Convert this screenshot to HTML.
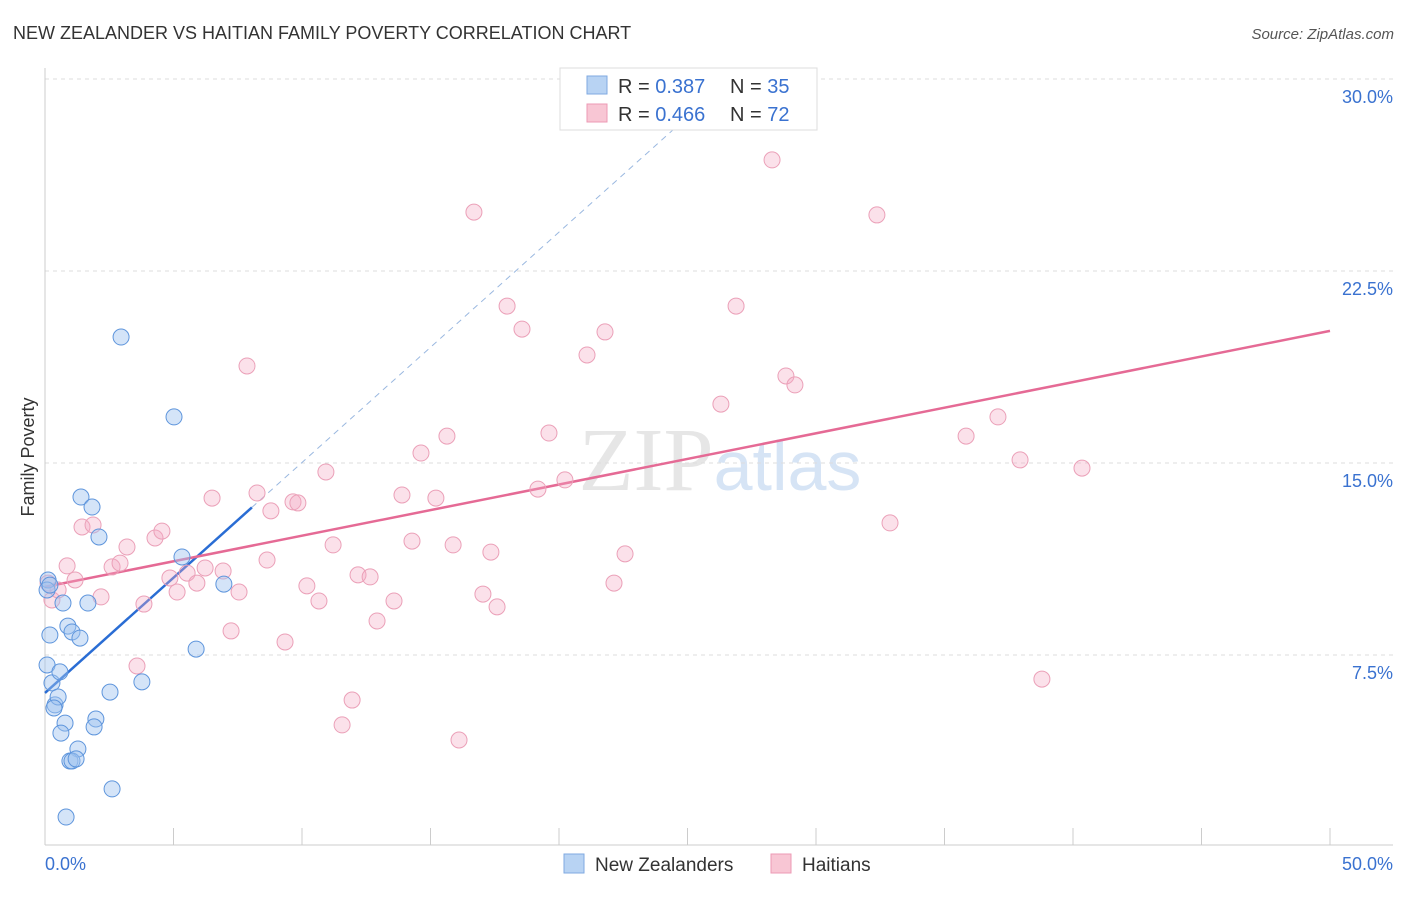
<!DOCTYPE html>
<html><head><meta charset="utf-8"><style>
body{margin:0;background:#fff;font-family:"Liberation Sans",sans-serif}
</style></head><body>
<svg id="chart" width="1406" height="892" xmlns="http://www.w3.org/2000/svg" font-family="Liberation Sans, sans-serif">
<text x="13" y="39" font-size="18" fill="#333">NEW ZEALANDER VS HAITIAN FAMILY POVERTY CORRELATION CHART</text>
<text x="1394" y="39" font-size="15" fill="#555" text-anchor="end" font-style="italic">Source: ZipAtlas.com</text>
<text x="720" y="490" font-size="90" text-anchor="middle" fill="#e6e6e6" font-family="Liberation Serif, serif">ZIP<tspan fill="#d6e4f5" font-family="Liberation Sans, sans-serif" font-size="70">atlas</tspan></text>
<text transform="translate(34,457) rotate(-90)" font-size="18" fill="#333" text-anchor="middle">Family Poverty</text>
<g id="grid"></g><g id="axes"></g><g id="lines"></g><g id="pts"></g>
<g>
<rect x="560" y="68" width="257" height="62" fill="#fff" stroke="#ddd"/>
<rect x="587" y="76" width="20" height="18" fill="#b8d3f3" stroke="#7fa9e2"/>
<rect x="587" y="104" width="20" height="18" fill="#f8c6d4" stroke="#ec9ab4"/>
<text x="618" y="93" font-size="20" fill="#333">R = <tspan fill="#3a72d0">0.387</tspan><tspan x="730">N = </tspan><tspan fill="#3a72d0">35</tspan></text>
<text x="618" y="121" font-size="20" fill="#333">R = <tspan fill="#3a72d0">0.466</tspan><tspan x="730">N = </tspan><tspan fill="#3a72d0">72</tspan></text>
</g>
<g>
<rect x="564" y="854" width="20" height="19" fill="#b8d3f3" stroke="#7fa9e2"/>
<text x="595" y="871" font-size="19" fill="#333">New Zealanders</text>
<rect x="771" y="854" width="20" height="19" fill="#f8c6d4" stroke="#ec9ab4"/>
<text x="802" y="871" font-size="19" fill="#333">Haitians</text>
</g>
</svg>
<script>
const yTicks=[7.5,15,22.5,30];
const yTickLabels=["7.5%","15.0%","22.5%","30.0%"];
const xTicks=[0,5,10,15,20,25,30,35,40,45,50];
const blueX=[0.12,0.08,0.27,0.39,0.51,0.58,0.19,0.70,0.89,1.05,1.36,1.40,1.83,2.10,1.67,0.78,0.62,1.28,0.97,1.05,1.21,1.98,1.91,2.53,2.61,0.82,2.96,5.02,5.33,5.88,6.96,3.77,0.35,0.08,0.19];
const blueY=[10.43,7.11,6.41,5.55,5.86,6.84,8.28,9.53,8.63,8.40,8.16,13.67,13.28,12.11,9.53,4.84,4.45,3.83,3.36,3.36,3.44,5.00,4.69,6.05,2.27,1.17,19.92,16.80,11.33,7.73,10.27,6.45,5.43,10.04,10.23];
const pinkX=[0.12,0.27,0.51,0.86,1.17,1.44,1.87,2.18,2.61,2.92,3.19,3.85,3.58,4.28,4.55,4.86,5.14,5.53,5.91,6.23,6.50,6.93,7.24,7.55,7.86,8.25,8.64,8.79,9.34,9.65,9.84,10.19,10.66,10.93,11.21,11.56,11.95,12.18,12.65,12.92,13.58,13.89,14.28,14.63,15.21,15.64,15.88,16.11,16.69,17.04,17.35,17.59,17.98,18.56,19.18,19.61,20.23,21.09,21.79,22.14,22.57,26.30,26.89,28.29,28.83,29.18,32.37,32.88,35.84,37.08,37.94,38.79,40.35];
const pinkY=[10.31,9.65,10.04,10.98,10.43,12.50,12.58,9.77,10.94,11.09,11.72,9.49,7.07,12.07,12.34,10.51,9.96,10.70,10.31,10.90,13.63,10.78,8.44,9.96,18.79,13.83,11.21,13.13,8.01,13.48,13.44,10.20,9.61,14.65,11.80,4.77,5.74,10.63,10.55,8.83,9.61,13.75,11.95,15.39,13.63,16.05,11.80,4.18,24.80,9.88,11.52,9.38,21.13,20.23,13.98,16.17,14.34,19.22,20.12,10.31,11.45,17.30,21.13,26.84,18.40,18.05,24.69,12.66,16.05,16.80,15.12,6.56,14.80];
const blueTrend=[6.02,0.90]; // intercept, slope
const pinkTrend=[10.16,0.20];
const X=v=>45+v*25.7, Y=v=>847-v*25.6;
const NS="http://www.w3.org/2000/svg";
function mk(parent,tag,attrs){const e=document.createElementNS(NS,tag);for(const k in attrs)e.setAttribute(k,attrs[k]);document.getElementById(parent).appendChild(e);return e;}
yTicks.forEach((t,i)=>{
 const l=mk('grid','line',{x1:45,x2:1393,y1:Y(t),y2:Y(t),stroke:'#ddd','stroke-dasharray':'4,4'});
 
 
 const tx=mk('grid','text',{x:1393,y:Y(t)+24,'font-size':18,fill:'#3a72d0','text-anchor':'end'});
 tx.textContent=yTickLabels[i];
 
 
});
const ax=mk('axes','line',{x1:45,x2:45,y1:68,y2:845,stroke:'#ccc'});


const bx=mk('axes','line',{x1:45,x2:1393,y1:845,y2:845,stroke:'#ccc'});


xTicks.forEach(t=>{
 const l=mk('axes','line',{x1:X(t),x2:X(t),y1:828,y2:845,stroke:'#ccc'});
 
 
});
[[0,"0.0%","start",45],[50,"50.0%","end",1393]].forEach(a=>{
 const tx=mk('axes','text',{x:a[3],y:870,'font-size':18,fill:'#3a72d0','text-anchor':a[2]});
 tx.textContent=a[1];
 
 
});
const bd=mk('lines','line',{x1:X(8.05),y1:Y(blueTrend[0]+blueTrend[1]*8.05),x2:X(24.5),y2:Y(blueTrend[0]+blueTrend[1]*24.5),stroke:'#9ab8e0','stroke-dasharray':'6,5','stroke-width':1});


const bl=mk('lines','line',{x1:X(0),y1:Y(blueTrend[0]),x2:X(8.05),y2:Y(blueTrend[0]+blueTrend[1]*8.05),stroke:'#2a6dd4','stroke-width':2.5});


const pl=mk('lines','line',{x1:X(0),y1:Y(pinkTrend[0]),x2:X(50),y2:Y(pinkTrend[0]+pinkTrend[1]*50),stroke:'#e56a95','stroke-width':2.5});


pinkX.forEach((v,i)=>{
 const c=mk('pts','circle',{cx:X(v),cy:Y(pinkY[i]),r:8,fill:'rgba(244,170,195,0.35)',stroke:'#eba0b8','stroke-width':1});
 
 
});
blueX.forEach((v,i)=>{
 const c=mk('pts','circle',{cx:X(v),cy:Y(blueY[i]),r:8,fill:'rgba(160,195,240,0.45)',stroke:'#5e95dc','stroke-width':1});
 
 
});
</script>
</body></html>
